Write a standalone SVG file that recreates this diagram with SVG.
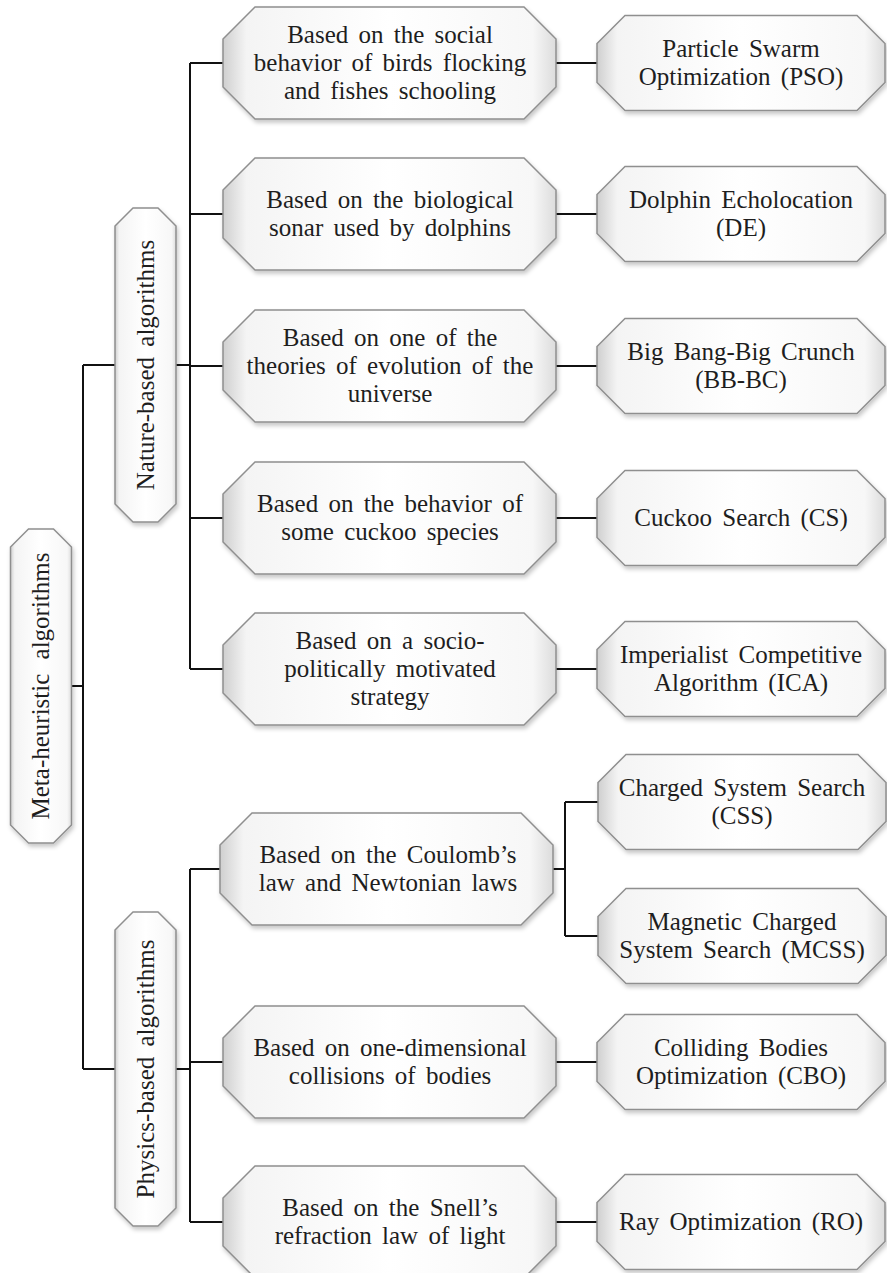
<svg xmlns="http://www.w3.org/2000/svg" width="887" height="1273" viewBox="0 0 887 1273">
<style>
  .box { fill: url(#g); stroke: #8f8f8f; stroke-width: 1.5; filter: url(#sh); }
  .t { font-family: "Liberation Serif", "Times New Roman", serif; font-size: 25px; fill: #1e1e1e; text-anchor: middle; word-spacing: 4px; }
  .c { fill: none; stroke: #111; stroke-width: 2; }
</style>
<defs>
  <linearGradient id="g" x1="0" y1="0" x2="1" y2="0">
    <stop offset="0" stop-color="#cfcfcf"/>
    <stop offset="0.07" stop-color="#f4f4f4"/>
    <stop offset="0.5" stop-color="#ffffff"/>
    <stop offset="0.93" stop-color="#f7f7f7"/>
    <stop offset="1" stop-color="#dcdcdc"/>
  </linearGradient>
  <filter id="sh" x="-10%" y="-10%" width="125%" height="130%">
    <feDropShadow dx="1.5" dy="3" stdDeviation="2" flood-color="#000" flood-opacity="0.22"/>
  </filter>
  <polygon id="l2" points="-134.5,-56 134.5,-56 166.5,-24 166.5,24 134.5,56 -134.5,56 -166.5,24 -166.5,-24"/>
  <polygon id="l3" points="-116,-47.5 116,-47.5 144,-19.5 144,19.5 116,47.5 -116,47.5 -144,19.5 -144,-19.5"/>
  <polygon id="lv" points="-12.5,-157 12.5,-157 30.5,-139 30.5,139 12.5,157 -12.5,157 -30.5,139 -30.5,-139"/>
</defs>
<rect width="887" height="1273" fill="#fff"/>

<g id="connectors">
  <path class="c" d="M72,686 H83 M83,365 V1069 M83,365 H115 M83,1069 H115"/>
  <path class="c" d="M176,365 H190 M190,63 V669 M190,63 H223 M190,214 H223 M190,366 H223 M190,518 H223 M190,669 H223"/>
  <path class="c" d="M176,1069 H190 M190,869 V1222 M190,869 H223 M190,1062 H223 M190,1222 H223"/>
  <path class="c" d="M556,63 H597 M556,214 H597 M556,366 H597 M556,518 H597 M556,669 H597 M556,1062 H597 M556,1222 H597"/>
  <path class="c" d="M553,869 H565 M565,802 V936 M565,802 H598 M565,936 H598"/>
</g>

<g id="meta">
  <use href="#lv" class="box" transform="translate(41,686)"/>
  <text class="t" transform="translate(41,686) rotate(-90)" x="0" y="8" style="word-spacing:8px">Meta-heuristic algorithms</text>
</g>
<g id="nature">
  <use href="#lv" class="box" transform="translate(145.5,365)"/>
  <text class="t" transform="translate(145.5,365) rotate(-90)" x="0" y="8">Nature-based algorithms</text>
</g>
<g id="physics">
  <use href="#lv" class="box" transform="translate(145.5,1069)"/>
  <text class="t" transform="translate(145.5,1069) rotate(-90)" x="0" y="8">Physics-based algorithms</text>
</g>

<g id="n-social">
  <use href="#l2" class="box" transform="translate(389.5,63)"/>
  <text class="t" x="390" y="43">Based on the social</text>
  <text class="t" x="390" y="71">behavior of birds flocking</text>
  <text class="t" x="390" y="99">and fishes schooling</text>
</g>
<g id="n-sonar">
  <use href="#l2" class="box" transform="translate(389.5,214)"/>
  <text class="t" x="390" y="208">Based on the biological</text>
  <text class="t" x="390" y="236">sonar used by dolphins</text>
</g>
<g id="n-universe">
  <use href="#l2" class="box" transform="translate(389.5,366)"/>
  <text class="t" x="390" y="346">Based on one of the</text>
  <text class="t" x="390" y="374">theories of evolution of the</text>
  <text class="t" x="390" y="402">universe</text>
</g>
<g id="n-cuckoo">
  <use href="#l2" class="box" transform="translate(389.5,518)"/>
  <text class="t" x="390" y="512">Based on the behavior of</text>
  <text class="t" x="390" y="540">some cuckoo species</text>
</g>
<g id="n-socio">
  <use href="#l2" class="box" transform="translate(389.5,669)"/>
  <text class="t" x="390" y="649">Based on a socio-</text>
  <text class="t" x="390" y="677">politically motivated</text>
  <text class="t" x="390" y="705">strategy</text>
</g>
<g id="n-coulomb">
  <use href="#l2" class="box" transform="translate(386.5,869)"/>
  <text class="t" x="388" y="863">Based on the Coulomb’s</text>
  <text class="t" x="388" y="891">law and Newtonian laws</text>
</g>
<g id="n-collision">
  <use href="#l2" class="box" transform="translate(389.5,1062)"/>
  <text class="t" x="390" y="1056">Based on one-dimensional</text>
  <text class="t" x="390" y="1084">collisions of bodies</text>
</g>
<g id="n-snell">
  <use href="#l2" class="box" transform="translate(389.5,1222)"/>
  <text class="t" x="390" y="1216">Based on the Snell’s</text>
  <text class="t" x="390" y="1244">refraction law of light</text>
</g>

<g id="a-pso">
  <use href="#l3" class="box" transform="translate(741,63)"/>
  <text class="t" x="741" y="57">Particle Swarm</text>
  <text class="t" x="741" y="85">Optimization (PSO)</text>
</g>
<g id="a-de">
  <use href="#l3" class="box" transform="translate(741,214)"/>
  <text class="t" x="741" y="208">Dolphin Echolocation</text>
  <text class="t" x="741" y="236">(DE)</text>
</g>
<g id="a-bbbc">
  <use href="#l3" class="box" transform="translate(741,366)"/>
  <text class="t" x="741" y="360">Big Bang-Big Crunch</text>
  <text class="t" x="741" y="388">(BB-BC)</text>
</g>
<g id="a-cs">
  <use href="#l3" class="box" transform="translate(741,518)"/>
  <text class="t" x="741" y="526">Cuckoo Search (CS)</text>
</g>
<g id="a-ica">
  <use href="#l3" class="box" transform="translate(741,669)"/>
  <text class="t" x="741" y="663">Imperialist Competitive</text>
  <text class="t" x="741" y="691">Algorithm (ICA)</text>
</g>
<g id="a-css">
  <use href="#l3" class="box" transform="translate(742,802)"/>
  <text class="t" x="742" y="796">Charged System Search</text>
  <text class="t" x="742" y="824">(CSS)</text>
</g>
<g id="a-mcss">
  <use href="#l3" class="box" transform="translate(742,936)"/>
  <text class="t" x="742" y="930">Magnetic Charged</text>
  <text class="t" x="742" y="958">System Search (MCSS)</text>
</g>
<g id="a-cbo">
  <use href="#l3" class="box" transform="translate(741,1062)"/>
  <text class="t" x="741" y="1056">Colliding Bodies</text>
  <text class="t" x="741" y="1084">Optimization (CBO)</text>
</g>
<g id="a-ro">
  <use href="#l3" class="box" transform="translate(741,1222)"/>
  <text class="t" x="741" y="1230">Ray Optimization (RO)</text>
</g>
</svg>
